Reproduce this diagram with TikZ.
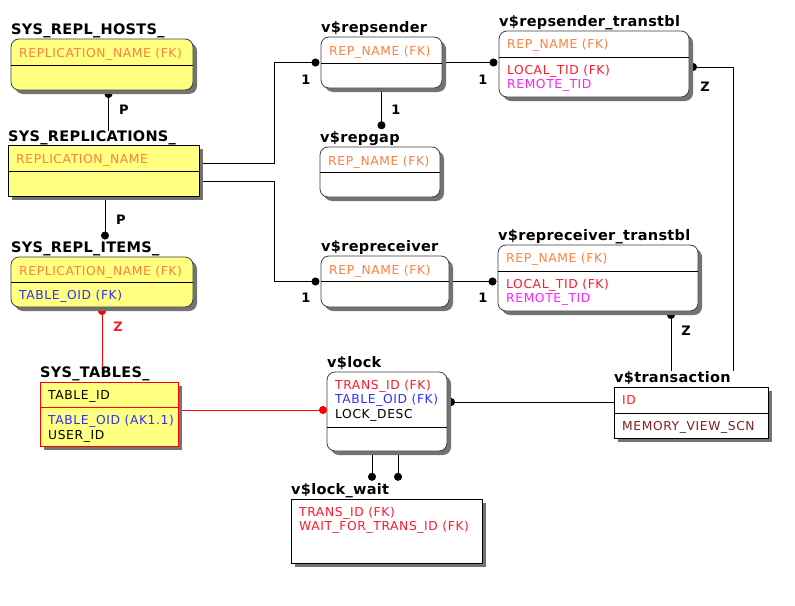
\documentclass[tikz,border=0pt]{standalone}
\usepackage{fontspec}
\setmainfont{DejaVu Sans}
\newfontfamily\erattrfont[LetterSpace=5]{DejaVu Sans}
\newfontfamily\ertitlefont[LetterSpace=2]{DejaVu Sans}
\usetikzlibrary{arrows.meta}
\usetikzlibrary{shadows}
\pgfdeclarelayer{paper}
\pgfdeclarelayer{links}
\pgfsetlayers{paper,links,main}
\definecolor{eryellow}{HTML}{FFFF80}
\definecolor{erorange}{HTML}{FF8040}
\definecolor{erred}{HTML}{FF1A2E}
\definecolor{erblue}{HTML}{3030FF}
\definecolor{ermagenta}{HTML}{FF20FF}
\definecolor{erbrown}{HTML}{802020}
\definecolor{erframe}{HTML}{404040}
\tikzset{
  entity/.style={draw=erframe,line width=0.8pt,fill=white,inner sep=0pt,outer sep=0pt,
    drop shadow={shadow xshift=4pt,shadow yshift=-4pt,fill=black!55,opacity=1}},
  roundent/.style={entity,rounded corners=8pt},
  ertitle/.style={anchor=base west,inner sep=0pt,font=\ertitlefont\bfseries\fontsize{14.5}{16}\selectfont},
  attr/.style={anchor=base west,inner sep=0pt,align=left,font=\erattrfont\fontsize{12.3}{14.5}\selectfont},
  card/.style={inner sep=0pt,font=\bfseries\fontsize{13}{14}\selectfont},
  divider/.style={line width=0.8pt},
  link/.style={line width=0.8pt},
  dotstart/.style={{Circle[length=8pt]}-},
  dotend/.style={-{Circle[length=8pt]}}
}

\begin{document}
\begin{tikzpicture}[x=1pt,y=-1pt]
\begin{pgfonlayer}{paper}
  \fill[white] (0,0) rectangle (795,605);
\end{pgfonlayer}
\useasboundingbox (0,0) rectangle (795,605);
%-----Entities-----
\node[roundent,fill=eryellow,minimum width=182pt,minimum height=51pt] (hosts) at (102,64.5) {};
\node[entity,draw=black,fill=eryellow,minimum width=191pt,minimum height=51pt] (repl) at (103.5,170.5) {};
\node[roundent,fill=eryellow,minimum width=182pt,minimum height=50pt] (items) at (102,282) {};
\node[entity,draw=red,fill=eryellow,minimum width=138pt,minimum height=64pt] (tables) at (109,414) {};
\node[roundent,minimum width=121pt,minimum height=51pt] (sender) at (381.5,62.5) {};
\node[roundent,minimum width=120pt,minimum height=50pt] (gap) at (380,172) {};
\node[roundent,minimum width=190pt,minimum height=66pt] (stt) at (594,64) {};
\node[roundent,minimum width=128pt,minimum height=51pt] (receiver) at (385,281.5) {};
\node[roundent,minimum width=200pt,minimum height=66pt] (rtt) at (598,278) {};
\node[roundent,minimum width=120pt,minimum height=79pt] (lock) at (387,411.5) {};
\node[entity,draw=black,minimum width=154pt,minimum height=51pt] (trans) at (691,412.5) {};
\node[entity,draw=black,minimum width=191pt,minimum height=64pt] (wait) at (386.5,531) {};
%-----Dividers-----
\foreach \e/\d in {hosts/26,repl/26,items/25,sender/26,gap/25,stt/26,receiver/25,rtt/26,lock/55,trans/26}
  \draw[divider] ([yshift=-\d pt]\e.north west) -- ([yshift=-\d pt]\e.north east);
\draw[divider,red] ([yshift=-25pt]tables.north west) -- ([yshift=-25pt]tables.north east);
%-----Titles-----
\node[ertitle] (hoststitle) at ([yshift=4.5pt]hosts.north west) {SYS\_REPL\_HOSTS\_};
\node[ertitle] (repltitle) at ([yshift=3.5pt]repl.north west) {SYS\_REPLICATIONS\_};
\node[ertitle] (itemstitle) at ([yshift=4.5pt]items.north west) {SYS\_REPL\_ITEMS\_};
\node[ertitle] (tablestitle) at ([yshift=5pt]tables.north west) {SYS\_TABLES\_};
\node[ertitle] (sendertitle) at ([yshift=4.5pt]sender.north west) {v\$repsender};
\node[ertitle] (gaptitle) at ([yshift=4.5pt]gap.north west) {v\$repgap};
\node[ertitle] (stttitle) at ([yshift=4.5pt]stt.north west) {v\$repsender\_transtbl};
\node[ertitle] (receivertitle) at ([yshift=4.5pt]receiver.north west) {v\$repreceiver};
\node[ertitle] (rtttitle) at ([yshift=4.5pt]rtt.north west) {v\$repreceiver\_transtbl};
\node[ertitle] (locktitle) at ([yshift=5pt]lock.north west) {v\$lock};
\node[ertitle] (transtitle) at ([yshift=5pt]trans.north west) {v\$transaction};
\node[ertitle] (waittitle) at ([yshift=5pt]wait.north west) {v\$lock\_wait};
%-----Attributes (multi-line nodes sit on their last line)-----
\node[attr,text=erorange] (hostskey) at ([xshift=8pt,yshift=-18pt]hosts.north west) {REPLICATION\_NAME (FK)};
\node[attr,text=erorange] (replkey) at ([xshift=8pt,yshift=-18pt]repl.north west) {REPLICATION\_NAME};
\node[attr,text=erorange] (itemskey) at ([xshift=8pt,yshift=-18pt]items.north west) {REPLICATION\_NAME (FK)};
\node[attr,text=erblue] (itemsbody) at ([xshift=8pt,yshift=-42.5pt]items.north west) {TABLE\_OID (FK)};
\node[attr] (tableskey) at ([xshift=8pt,yshift=-17pt]tables.north west) {TABLE\_ID};
\node[attr] (tablesbody) at ([xshift=8pt,yshift=-57pt]tables.north west) {\textcolor{erblue}{TABLE\_OID (AK1.1)}\\USER\_ID};
\node[attr,text=erorange] (senderkey) at ([xshift=8pt,yshift=-18pt]sender.north west) {REP\_NAME (FK)};
\node[attr,text=erorange] (gapkey) at ([xshift=8pt,yshift=-18pt]gap.north west) {REP\_NAME (FK)};
\node[attr,text=erorange] (sttkey) at ([xshift=8pt,yshift=-17.5pt]stt.north west) {REP\_NAME (FK)};
\node[attr] (sttbody) at ([xshift=8pt,yshift=-57.5pt]stt.north west) {\textcolor{erred}{LOCAL\_TID (FK)}\\\textcolor{ermagenta}{REMOTE\_TID}};
\node[attr,text=erorange] (receiverkey) at ([xshift=8pt,yshift=-18pt]receiver.north west) {REP\_NAME (FK)};
\node[attr,text=erorange] (rttkey) at ([xshift=8pt,yshift=-17.5pt]rtt.north west) {REP\_NAME (FK)};
\node[attr] (rttbody) at ([xshift=8pt,yshift=-57.5pt]rtt.north west) {\textcolor{erred}{LOCAL\_TID (FK)}\\\textcolor{ermagenta}{REMOTE\_TID}};
\node[attr] (lockkey) at ([xshift=8pt,yshift=-46pt]lock.north west) {\textcolor{erred}{TRANS\_ID (FK)}\\\textcolor{erblue}{TABLE\_OID (FK)}\\LOCK\_DESC};
\node[attr,text=erred] (transkey) at ([xshift=8pt,yshift=-17.5pt]trans.north west) {ID};
\node[attr,text=erbrown] (transbody) at ([xshift=8pt,yshift=-43pt]trans.north west) {MEMORY\_VIEW\_SCN};
\node[attr,text=erred] (waitkey) at ([xshift=8pt,yshift=-31.5pt]wait.north west) {TRANS\_ID (FK)\\WAIT\_FOR\_TRANS\_ID (FK)};
%-----Relationships-----
\begin{pgfonlayer}{links}
  \draw[link,dotstart] ([xshift=6.5pt]hosts.south) -- ([xshift=6.5pt]hosts.south |- repltitle.north);
  \draw[link,dotend,shorten >=1.5pt] ([yshift=7.5pt]repl.east) -- ++(75,0) |- (sender.west);
  \draw[link,dotend,shorten >=1.5pt] ([yshift=-10.5pt]repl.east) -- ++(75,0) |- (receiver.west);
  \draw[link,dotend,shorten >=1.5pt] (sender.east) -- (sender.east -| stt.west);
  \draw[link,dotend,shorten >=2pt] (sender.south) -- (sender.south |- gaptitle.north);
  \draw[link,dotend,shorten >=1.5pt] (receiver.east) -- (receiver.east -| rtt.west);
  \draw[link,dotstart] ([yshift=-3pt]stt.east) -| ([xshift=-35pt]trans.north east |- transtitle.north);
  \draw[link,dotstart] ([xshift=73pt]rtt.south) -- ([xshift=73pt]rtt.south |- transtitle.north);
  \draw[link,dotstart] ([yshift=9.5pt]lock.east) -- ([yshift=9.5pt]lock.east -| trans.west);
  \draw[link,red,dotend] ([yshift=4pt]tables.east) -- ([yshift=4pt]tables.east -| lock.west);
  \draw[link,dotend,shorten >=2pt] ([xshift=1.5pt]repl.south) -- ([xshift=1.5pt]repl.south |- itemstitle.north);
  \draw[link,red,dotstart] (items.south) -- (items.south |- tablestitle.north);
  \draw[link,dotend,shorten >=2pt] ([xshift=-15pt]lock.south) -- ([xshift=-15pt]lock.south |- waittitle.north);
  \draw[link,dotend,shorten >=2pt] ([xshift=11pt]lock.south) -- ([xshift=11pt]lock.south |- waittitle.north);
\end{pgfonlayer}
%-----Cardinalities-----
\node[card] (hostsP) at (124,110) {P};
\node[card] (itemsP) at (121,220) {P};
\node[card,text=erred] (tablesZ) at (118,327) {Z};
\node[card] (sender1) at (306,80) {1};
\node[card] (stt1) at (483,80) {1};
\node[card] (gap1) at (396,110) {1};
\node[card] (sttZ) at (705,87) {Z};
\node[card] (receiver1) at (306,298) {1};
\node[card] (rtt1) at (483,298) {1};
\node[card] (rttZ) at (686,331) {Z};
\end{tikzpicture}
\end{document}
